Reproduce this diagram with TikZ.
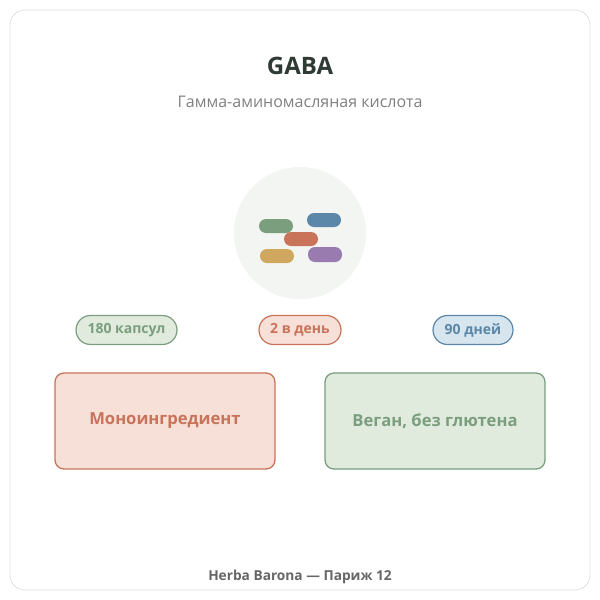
\documentclass[tikz,border=0pt]{standalone}
\usepackage{fontspec}
\setmainfont{Open Sans}
\begin{document}
\begin{tikzpicture}[x=1pt,y=-1pt,
  pill/.style={rounded corners=7pt,draw=none},
  badge/.style={rounded corners=14.5pt,line width=1.2pt,minimum height=29pt,inner sep=0pt,font=\bfseries\fontsize{14}{16}\selectfont},
  box/.style={rounded corners=9pt,line width=1.3pt,minimum width=220pt,minimum height=96pt,inner sep=0pt,font=\bfseries\fontsize{16.6}{20}\selectfont}]
\definecolor{gr}{HTML}{7A9E7E}\definecolor{grl}{HTML}{E0EBDD}
\definecolor{orc}{HTML}{C8735A}\definecolor{orl}{HTML}{F6E0D8}
\definecolor{bl}{HTML}{5B87A8}\definecolor{bll}{HTML}{D6E5EE}
\definecolor{ye}{HTML}{D0A75E}\definecolor{pu}{HTML}{9A7BAF}
\definecolor{circ}{HTML}{F3F5F2}\definecolor{ttl}{HTML}{2F3A35}
\useasboundingbox (0,0) rectangle (600,600);
\fill[white] (0,0) rectangle (600,600);
\draw[draw=black!12,line width=0.8pt,fill=white,rounded corners=15pt] (10,10) rectangle (590,590);
\node[font=\bfseries\fontsize{24}{28}\selectfont,text=ttl] (title) at (300,66) {GABA};
\node[font=\fontsize{16}{19}\selectfont,text=black!50] (sub) at (300,102) {Гамма-аминомасляная кислота};
\fill[circ] (300,233) circle (66);
\fill[pill,gr] (259,219) rectangle (293,233);
\fill[pill,bl] (307,213) rectangle (341,227);
\fill[pill,orc] (284,232) rectangle (318,246);
\fill[pill,ye] (260,249) rectangle (294,263);
\fill[pill,pu] (308,247) rectangle (342,262);
\node[badge,draw=gr,fill=grl,text=gr,minimum width=101pt] (b1) at (126.5,330) {180 капсул};
\node[badge,draw=orc,fill=orl,text=orc,minimum width=82pt] (b2) at (300,330) {2 в день};
\node[badge,draw=bl,fill=bll,text=bl,minimum width=80pt] (b3) at (473,330) {90 дней};
\node[box,draw=orc,fill=orl,text=orc] (m) at (165,421) {Моноингредиент};
\node[box,draw=gr,fill=grl,text=gr] (v) at (435,421) {Веган, без глютена};
\node[font=\bfseries\fontsize{13.7}{15}\selectfont,text=black!60] (f) at (300,577) {Herba Barona — Париж 12};
\end{tikzpicture}
\end{document}
